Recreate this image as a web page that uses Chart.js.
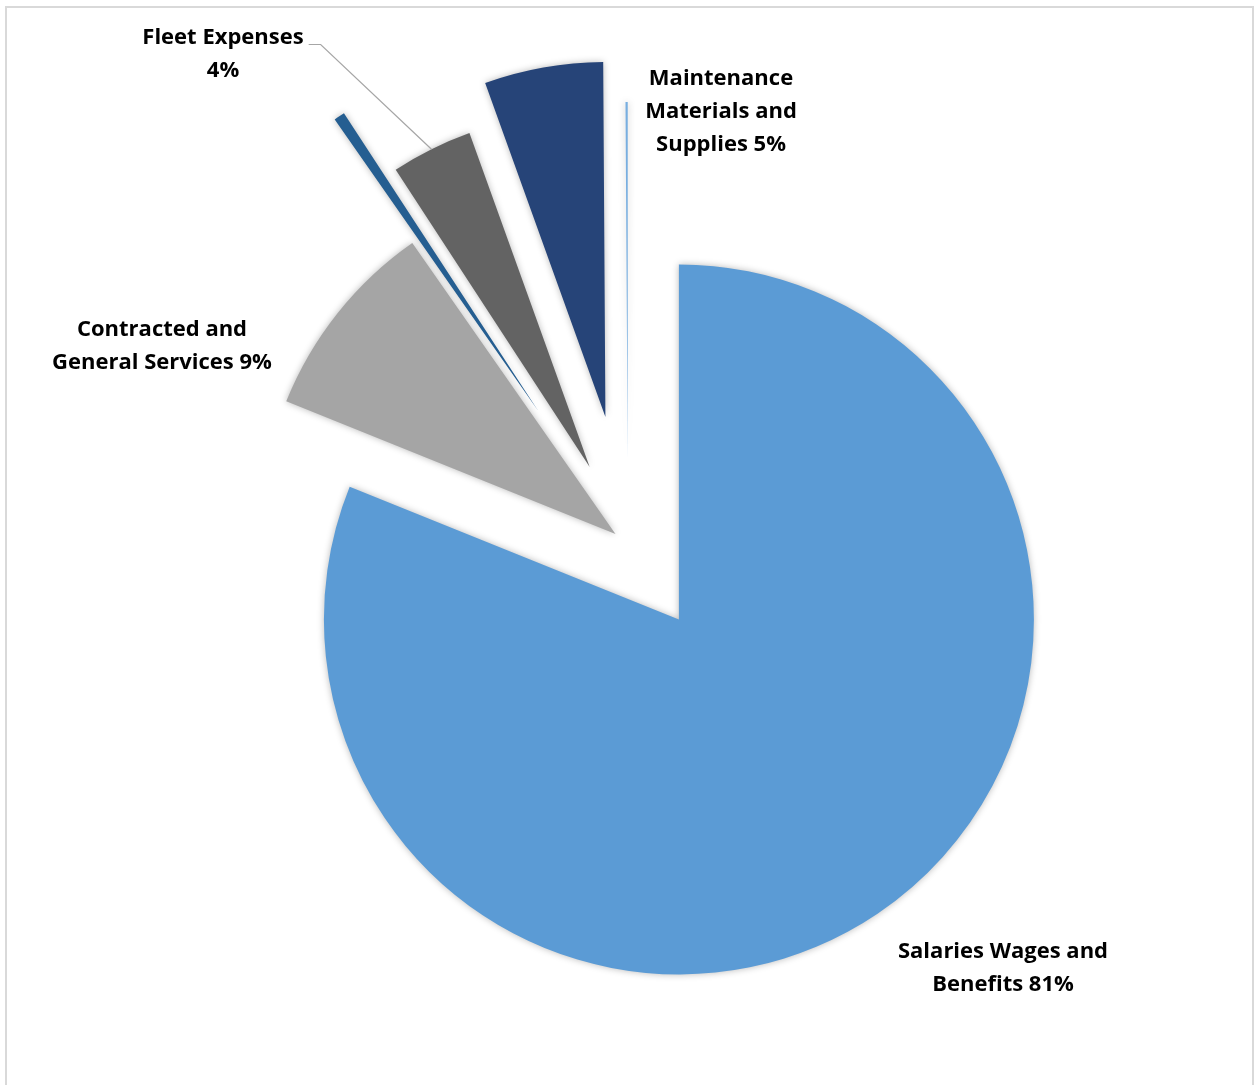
<!DOCTYPE html>
<html><head><meta charset="utf-8">
<script src="https://cdn.jsdelivr.net/npm/chart.js@4.4.1/dist/chart.umd.min.js"></script>
<style>html,body{margin:0;padding:0;background:#fff;}#wrap{position:relative;width:1254px;height:1085px;}</style>
</head><body><div id="wrap"><canvas id="c" width="1254" height="1085"></canvas></div>
<script>
// ---- data ----
const categories = ["Salaries Wages and Benefits", "Contracted and General Services", "Other Expenses", "Fleet Expenses", "Maintenance Materials and Supplies", "Miscellaneous"];
const values = [81.1, 9.2, 0.5, 3.7, 5.4, 0.1];
const labelLines = [["Salaries Wages and", "Benefits {p}"], ["Contracted and", "General Services {p}"], null, ["Fleet Expenses", "{p}"], ["Maintenance", "Materials and", "Supplies {p}"], null];
// ---- style ----
const colors = ["#5B9BD5", "#A5A5A5", "#255E91", "#636363", "#264478", "#78AEE0"];
const explode = [91, 16, 161, 86, 129, 87];            // px each slice is pulled out along its bisector
const labelAnchor = [[375, 424], [-466, -198], null, [-405, -490], [93, -432], null]; // label block centre, relative to pie centre
const leaderFor = [false, false, false, true, false, false];
const FONT = "bold 22px 'Open Sans', Lato, sans-serif";
const LINE_H = 33;

const total = values.reduce((a, b) => a + b, 0);

const explodePlugin = {
  id: 'explodePie',
  beforeDraw(chart) {
    const ctx = chart.ctx;
    ctx.save();
    ctx.fillStyle = '#fff';
    ctx.fillRect(0, 0, chart.width, chart.height);
    ctx.strokeStyle = '#D9D9D9';
    ctx.lineWidth = 2;
    ctx.strokeRect(6, 7, 1247, 1100);
    ctx.restore();
  },
  beforeDatasetsDraw(chart) {
    const ca = chart.chartArea;
    const cx = (ca.left + ca.right) / 2, cy = (ca.top + ca.bottom) / 2;
    const meta = chart.getDatasetMeta(0);
    meta.data.forEach((arc, i) => {
      const half = (arc.startAngle + arc.endAngle) / 2;
      arc.x = cx + explode[i] * Math.cos(half);
      arc.y = cy + explode[i] * Math.sin(half);
    });
    const ctx = chart.ctx;
    ctx.save();
    ctx.shadowColor = 'rgba(0,0,0,0.28)';
    ctx.shadowBlur = 7;
    ctx.shadowOffsetX = 0;
    ctx.shadowOffsetY = 0;
  },
  afterDatasetsDraw(chart) {
    const ctx = chart.ctx;
    ctx.restore();
    const ca = chart.chartArea;
    const cx = (ca.left + ca.right) / 2, cy = (ca.top + ca.bottom) / 2;
    const meta = chart.getDatasetMeta(0);
    ctx.save();
    ctx.font = FONT;
    ctx.fillStyle = '#000';
    ctx.textAlign = 'center';
    ctx.textBaseline = 'middle';
    values.forEach((v, i) => {
      if (!labelLines[i]) return;
      const pct = Math.round(v / total * 100) + '%';
      const lines = labelLines[i].map(s => s.replace('{p}', pct));
      const lx = cx + labelAnchor[i][0];
      const ly0 = cy + labelAnchor[i][1] - (lines.length - 1) * LINE_H / 2;
      lines.forEach((s, k) => ctx.fillText(s, lx, ly0 + k * LINE_H));
      if (leaderFor[i]) {
        const arc = meta.data[i];
        const half = (arc.startAngle + arc.endAngle) / 2;
        const ex = arc.x + arc.outerRadius * Math.cos(half);
        const ey = arc.y + arc.outerRadius * Math.sin(half);
        const w = ctx.measureText(lines[0]).width;
        const sx = lx + w / 2 + 5, sy = ly0 + 7;
        ctx.beginPath();
        ctx.strokeStyle = '#A6A6A6';
        ctx.lineWidth = 1.2;
        ctx.moveTo(sx, sy);
        ctx.lineTo(sx + 12, sy);
        ctx.lineTo(ex, ey);
        ctx.stroke();
      }
    });
    ctx.restore();
  }
};

new Chart(document.getElementById('c'), {
  type: 'pie',
  data: {
    labels: categories,
    datasets: [{ data: values, backgroundColor: colors, borderWidth: 0, hoverOffset: 0 }]
  },
  options: {
    responsive: false,
    animation: false,
    events: [],
    layout: { padding: { left: 273, right: 271, top: 189, bottom: 186 } },
    plugins: { legend: { display: false }, tooltip: { enabled: false } }
  },
  plugins: [explodePlugin]
});
</script>
</body></html>
